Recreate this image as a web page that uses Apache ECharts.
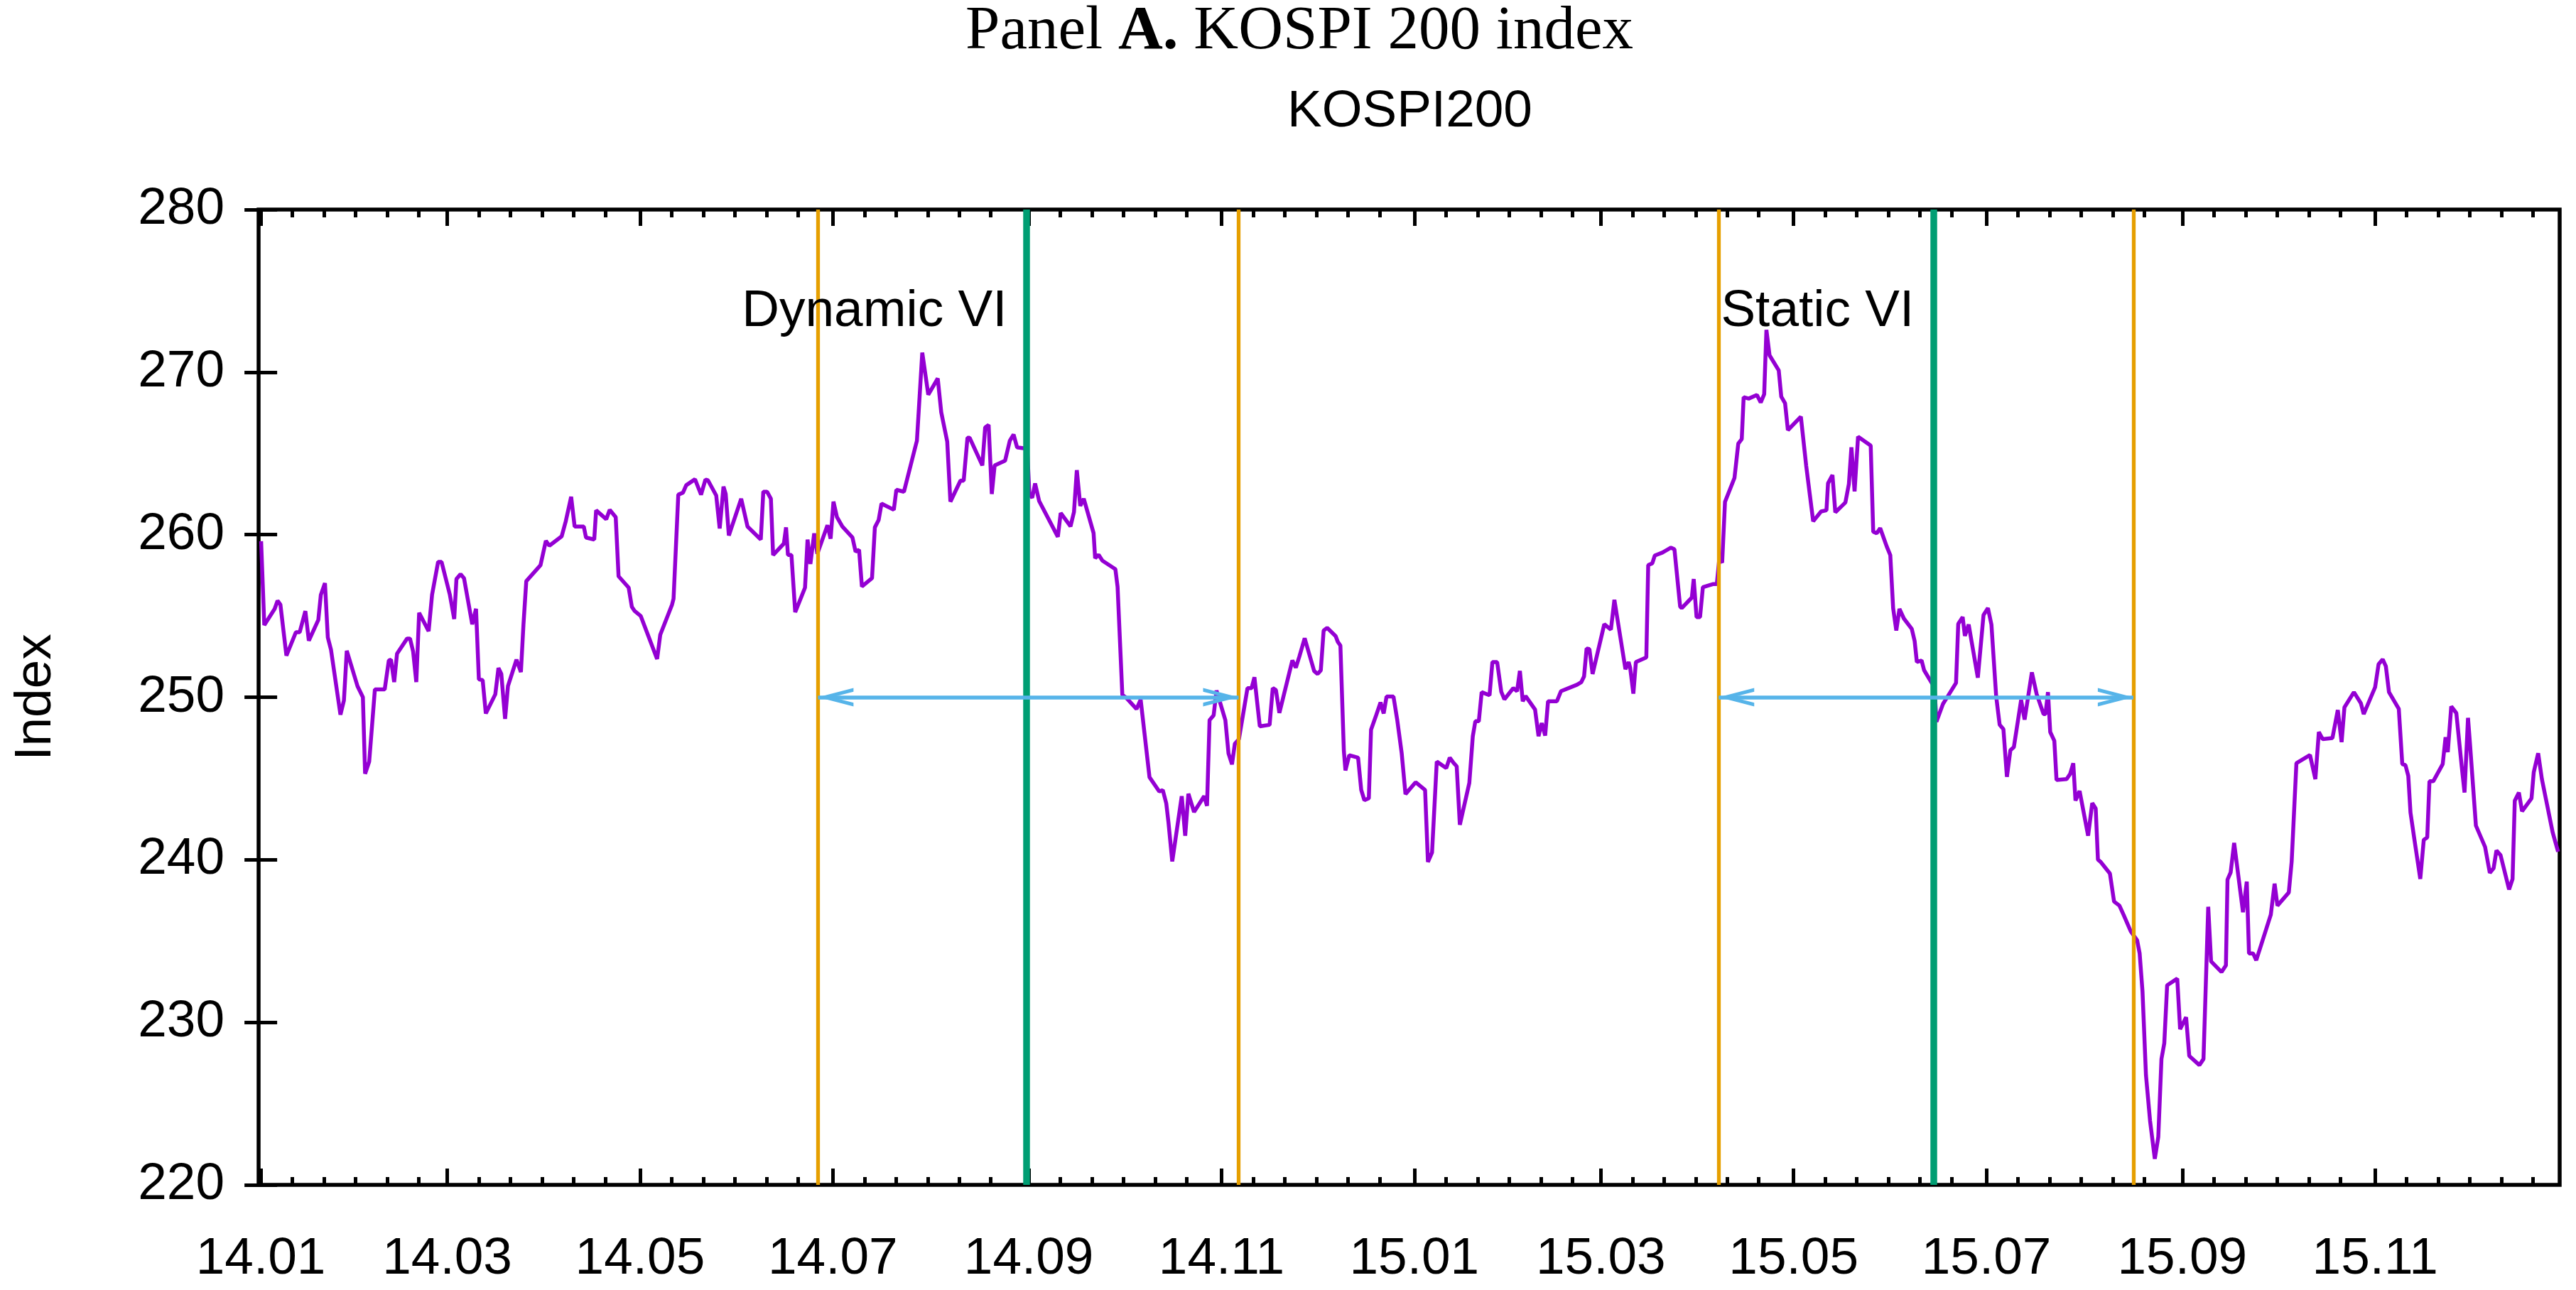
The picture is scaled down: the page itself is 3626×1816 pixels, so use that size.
<!DOCTYPE html>
<html><head><meta charset="utf-8">
<script src="https://cdn.jsdelivr.net/npm/echarts@6/dist/echarts.min.js"></script>
<style>html,body{margin:0;padding:0;background:#fff}#c{width:3626px;height:1816px}</style>
</head><body><div id="c"></div>
<script>
// trading day offset (days since 2014-01-01) and KOSPI200 level
const tradeDay = [0.1,1.1,4.4,5.3,6.2,8.1,11.1,12.3,14.1,15.2,18.2,19.0,20.3,21.2,22.2,25.2,26.3,27.2,30.6,32.3,33.0,34.3,36.1,39.2,40.5,41.2,42.2,43.1,46.3,47.2,48.2,49.2,50.1,53.1,54.2,56.1,57.2,59.8,61.2,61.9,63.2,64.3,66.9,68.1,69.0,70.2,71.2,74.2,75.2,76.1,77.3,78.2,80.9,82.3,83.1,84.0,88.5,90.2,91.3,95.2,96.5,98.2,99.3,102.2,102.9,105.5,106.1,109.3,110.4,112.3,113.2,116.4,117.4,118.3,120.2,125.4,126.4,130.1,130.6,132.1,133.6,134.6,137.4,139.3,140.7,141.5,144.1,145.2,146.4,147.1,148.1,152.0,154.0,158.2,159.0,160.2,161.4,162.1,165.5,166.2,166.8,167.9,169.1,172.2,173.0,173.9,175.1,176.1,179.3,180.3,181.2,182.3,184.0,187.2,188.2,189.3,190.2,193.4,194.3,195.5,196.4,200.3,201.1,203.5,207.1,207.6,209.3,211.2,214.2,215.3,217.2,218.2,221.4,222.4,223.6,224.3,228.3,229.2,230.3,231.3,232.2,235.5,237.0,238.2,239.3,242.5,243.2,244.1,245.0,246.3,252.2,253.1,256.2,257.3,258.2,259.3,260.4,263.5,264.0,265.1,266.3,270.4,271.1,272.6,273.8,277.1,278.4,281.2,284.3,285.4,286.5,287.2,288.4,291.4,292.5,293.5,295.3,298.5,299.4,300.2,301.5,302.4,305.2,306.2,307.3,308.2,309.5,312.2,313.5,314.4,316.1,319.2,320.2,321.2,322.3,326.4,327.5,328.6,330.3,333.3,334.4,335.4,336.3,337.4,340.1,340.8,341.6,342.7,343.2,344.4,347.2,348.2,349.2,350.6,351.3,352.9,354.3,355.3,356.2,358.4,359.6,361.0,362.2,365.4,368.4,369.3,370.6,372.1,375.1,376.2,377.4,378.4,379.4,382.4,383.5,384.3,385.4,386.3,388.8,389.7,391.2,392.5,393.5,396.3,397.5,398.4,399.3,400.2,403.2,404.3,405.3,406.4,407.3,410.1,411.4,416.5,417.8,418.7,419.5,420.4,421.4,425.1,427.2,428.3,431.8,432.8,433.3,434.3,435.1,438.4,439.0,440.3,441.1,443.5,446.2,447.3,449.1,449.6,452.8,453.4,454.3,455.4,456.3,459.6,460.7,461.5,462.4,463.3,466.3,467.5,468.6,469.2,470.8,473.4,474.6,475.7,476.4,477.4,480.3,481.1,482.3,483.2,487.3,489.0,491.2,493.7,495.4,495.9,497.3,498.2,501.4,502.5,503.3,504.3,505.4,509.4,510.2,511.3,512.4,514.5,515.6,516.5,517.5,518.5,519.9,522.4,523.3,524.0,525.5,526.3,528.7,529.6,530.2,532.3,533.8,536.4,537.1,538.5,539.2,540.4,543.3,545.1,546.5,547.6,549.1,550.2,551.4,552.5,553.6,554.7,557.0,558.1,560.4,561.9,564.1,564.7,565.5,566.2,567.5,568.2,571.4,572.5,573.5,574.2,575.5,578.2,579.5,580.6,581.3,582.1,585.1,586.4,588.1,589.4,591.7,593.7,594.5,595.4,596.5,597.8,599.3,600.4,601.4,602.3,603.2,606.4,607.3,609.2,610.2,613.4,614.7,616.2,617.1,620.4,621.8,622.3,623.3,624.4,627.2,628.4,629.1,630.4,631.4,636.0,637.2,638.1,641.7,642.6,644.1,648.4,650.1,651.2,652.4,655.5,657.2,658.4,659.3,662.3,664.5,665.4,669.0,670.1,671.4,672.4,673.4,676.5,677.6,678.6,679.5,680.2,681.4,683.3,684.4,685.5,686.2,687.4,690.4,691.3,692.0,693.1,694.7,696.4,697.3,698.4,699.0,700.9,703.8,705.3,706.5,707.4,708.7,711.4,712.5,713.2,714.5,715.5,718.5,719.2,720.6,721.8,725.2,726.9];
const kospi200 = [259.6,254.44,255.44,255.94,255.7,252.56,254.0,254.0,255.3,253.48,254.76,256.3,257.02,253.68,252.93,248.92,249.8,252.86,250.68,250.0,245.29,246.04,250.48,250.48,252.26,252.31,250.93,252.68,253.61,253.61,252.81,250.93,255.19,254.06,256.32,258.32,258.32,256.32,254.81,257.27,257.57,257.32,254.49,255.44,251.1,251.05,249.0,250.18,251.8,251.43,248.67,250.68,252.31,251.55,254.44,257.14,258.12,259.62,259.32,259.9,260.83,262.33,260.5,260.5,259.82,259.7,261.5,260.95,261.53,261.08,257.44,256.74,255.56,255.3,255.0,252.35,253.85,255.68,256.06,262.46,262.59,263.04,263.41,262.46,263.39,263.34,262.41,260.38,262.96,262.51,259.95,262.21,260.5,259.7,262.64,262.64,262.21,258.75,259.45,260.45,258.75,258.75,255.23,256.74,259.7,258.2,260.08,258.82,260.58,259.75,262.03,261.08,260.5,259.83,258.95,259.07,256.81,257.32,260.45,260.9,261.91,261.53,262.76,262.64,265.4,265.77,271.2,268.61,269.61,267.53,265.72,262.03,263.33,263.32,265.96,265.96,264.26,266.6,266.75,262.5,264.26,264.55,265.78,266.16,265.37,265.28,262.5,262.27,263.15,262.06,259.87,261.33,260.51,261.39,263.97,261.77,262.21,260.1,258.55,258.76,258.4,257.88,256.79,250.15,249.97,249.27,249.85,245.08,244.2,244.29,243.47,242.3,239.9,243.91,241.48,244.06,242.94,243.91,243.32,248.59,248.89,250.41,248.59,246.54,245.87,247.13,247.42,250.56,250.56,251.23,248.21,248.3,250.56,250.44,249.03,252.26,251.82,252.49,253.63,251.61,251.43,251.65,254.1,254.27,253.76,253.4,253.18,246.69,245.5,246.43,246.28,244.29,243.66,243.78,248.0,248.88,249.68,249.0,250.04,250.04,248.59,246.55,244.04,244.77,244.29,239.87,240.45,246.04,245.64,246.28,245.96,245.75,242.15,244.73,247.6,248.52,248.52,250.31,250.12,252.16,252.16,250.34,249.87,250.56,250.37,251.62,249.75,250.07,249.24,247.6,248.41,247.64,249.75,249.75,250.37,250.77,250.92,251.28,252.99,252.96,251.43,254.49,254.16,255.99,251.72,252.16,251.8,250.22,252.16,252.45,258.13,258.24,258.72,258.9,259.2,259.1,255.58,255.48,256.13,257.27,254.93,254.93,256.77,256.96,256.96,258.52,258.28,262.02,263.49,265.6,265.88,268.46,268.37,268.59,268.13,268.64,272.6,271.03,270.11,268.49,268.09,266.43,267.26,264.22,260.82,261.43,261.5,263.16,263.67,261.37,261.98,263.12,265.37,262.66,266.03,265.48,260.18,260.08,260.4,259.26,258.74,255.48,254.1,255.43,254.84,254.2,253.46,252.17,252.26,251.66,250.88,250.61,248.49,249.6,250.06,250.88,254.51,254.93,253.77,254.47,251.2,255.06,255.48,254.47,250.06,248.31,248.03,245.1,246.74,246.93,249.83,248.62,251.53,250.2,248.96,248.96,250.31,247.86,247.32,244.91,244.96,245.28,245.94,243.64,244.23,241.48,243.49,243.15,240.01,239.88,239.15,237.43,237.18,236.62,235.59,235.05,234.24,231.91,226.75,223.93,221.6,222.95,227.74,228.72,232.28,232.69,229.58,230.31,227.93,227.37,227.74,237.11,233.75,233.09,233.5,238.78,239.22,241.04,236.77,238.66,234.24,234.24,233.82,236.62,238.53,237.18,237.99,239.88,245.94,246.44,244.96,247.86,247.42,247.49,249.21,247.24,249.38,250.31,249.63,248.96,250.61,252.03,252.33,251.91,250.31,249.28,245.89,245.82,245.16,242.9,241.3,238.82,241.23,241.37,244.83,244.83,245.89,247.54,246.62,249.43,249.03,245.75,244.14,248.73,247.2,242.1,240.79,239.19,239.48,240.57,240.28,238.17,238.82,243.63,244.14,242.98,243.78,245.38,246.55,244.94,241.67,240.5];

const tickLabels = ['14.01','14.03','14.05','14.07','14.09','14.11','15.01','15.03','15.05','15.07','15.09','15.11'];
const tickMonths = ['2014-01-01','2014-03-01','2014-05-01','2014-07-01','2014-09-01','2014-11-01','2015-01-01','2015-03-01','2015-05-01','2015-07-01','2015-09-01','2015-11-01','2016-01-01'];
const yTicks = [220, 230, 240, 250, 260, 270, 280];

const viNames = ['Dynamic VI', 'Static VI'];
const viStart = [242.3, 529.3];            // introduction dates (green)
const viWindow = [[176.3, 309.4], [461.3, 592.5]]; // window bounds (orange)
const arrowLevel = 250;
const labelLevel = 273.7;

const DAY0 = Date.UTC(2014, 0, 1);
const toDay = s => (Date.parse(s + 'T00:00:00Z') - DAY0) / 86400000;
const majorDays = tickMonths.map(toDay);
const X_MIN = -0.7, X_MAX = 727.4;
const minorDays = [];
majorDays.forEach(d => { for (let k = 1; k <= 5; k++) { const v = d + 10 * k; if (v < X_MAX) minorDays.push(v); } });
const labelDays = majorDays.slice(0, tickLabels.length);

const FONT = 'Liberation Sans';
const tick = (vals, len) => ({show: true, inside: true, length: len, customValues: vals, lineStyle: {color: '#000', width: 5}});
const xBase = {type: 'value', min: X_MIN, max: X_MAX, gridIndex: 0, axisLine: {show: false}, splitLine: {show: false}, axisLabel: {show: false}};

const arrowPath = 'path://M0 0L0.01 0L0 0.01Z M100 0L99.99 0L100 0.01Z M50 50L63 100L57.8 100L50 69.8L42.2 100L37 100Z';

const chart = echarts.init(document.getElementById('c'), null, {renderer: 'canvas'});
chart.setOption({
  animation: false,
  backgroundColor: '#fff',
  title: [
    {text: 'Panel {b|A.} KOSPI 200 index', left: 1359, top: 2, padding: 0,
     textStyle: {fontFamily: 'Liberation Serif', fontSize: 87, fontWeight: 'normal', color: '#000',
       rich: {b: {fontFamily: 'Liberation Serif', fontSize: 87, fontWeight: 'bold', color: '#000'}}}},
    {text: 'KOSPI200', left: 1812, top: 121, padding: 0,
     textStyle: {fontFamily: FONT, fontSize: 73, fontWeight: 'normal', color: '#000'}}
  ],
  grid: {left: 364, right: 23, top: 295, bottom: 148, show: true, borderColor: '#000', borderWidth: 5.5, backgroundColor: 'transparent'},
  xAxis: [
    Object.assign({}, xBase, {position: 'bottom', axisTick: tick(majorDays, 23),
      axisLabel: {show: true, customValues: labelDays, margin: 68, fontSize: 73, fontFamily: FONT, color: '#000',
        formatter: v => { const i = labelDays.findIndex(d => Math.abs(d - v) < 0.01); return i >= 0 ? tickLabels[i] : ''; }}}),
    Object.assign({}, xBase, {position: 'bottom', axisTick: tick(minorDays, 11)}),
    Object.assign({}, xBase, {position: 'top', axisTick: tick(majorDays, 23)}),
    Object.assign({}, xBase, {position: 'top', axisTick: tick(minorDays, 11)})
  ],
  yAxis: [
    {type: 'value', min: 220, max: 280, interval: 10, position: 'left', axisLine: {show: false}, splitLine: {show: false},
     axisTick: {show: true, inside: true, length: 23, lineStyle: {color: '#000', width: 5}},
     axisLabel: {fontSize: 73, fontFamily: FONT, color: '#000', margin: 48, padding: [14, 0, 0, 0],
       formatter: v => String(yTicks.find(t => t === v) ?? v)},
     name: 'Index', nameLocation: 'middle', nameRotate: 90, nameGap: 277,
     nameTextStyle: {fontSize: 73, fontFamily: FONT, color: '#000'}},
    {type: 'value', min: 220, max: 280, interval: 10, position: 'right', axisLine: {show: false}, splitLine: {show: false},
     axisTick: {show: true, inside: true, length: 23, lineStyle: {color: '#000', width: 5}}, axisLabel: {show: false}}
  ],
  series: [
    {type: 'line', name: 'KOSPI200', xAxisIndex: 0, yAxisIndex: 0, showSymbol: false, symbol: 'none', z: 2,
     lineStyle: {color: '#9400D3', width: 5.5}, data: tradeDay.map((d, i) => [d, kospi200[i]])},
    {type: 'line', xAxisIndex: 0, yAxisIndex: 0, data: [], z: 3,
     markLine: {silent: true, symbol: 'none', animation: false, label: {show: false},
       data: [].concat(
         viWindow.flat().map(d => ({xAxis: d, lineStyle: {color: '#E69F00', width: 5.3, type: 'solid'}})),
         viStart.map(d => ({xAxis: d, lineStyle: {color: '#009E73', width: 9.5, type: 'solid'}})))},
     markPoint: {silent: true, symbol: 'circle', symbolSize: 1, itemStyle: {color: 'rgba(0,0,0,0)'},
       label: {show: true, position: 'left', distance: 27, formatter: p => p.name, fontSize: 73, fontFamily: FONT, color: '#000'},
       data: viNames.map((n, i) => ({name: n, coord: [viStart[i], labelLevel]}))}},
    {type: 'line', xAxisIndex: 0, yAxisIndex: 0, data: [], z: 4,
     markLine: {silent: true, symbol: [arrowPath, arrowPath], symbolSize: 100, animation: false, label: {show: false},
       lineStyle: {color: '#56B4E9', width: 5.5, type: 'solid'},
       data: viWindow.map(w => [{coord: [w[0], arrowLevel]}, {coord: [w[1], arrowLevel]}])}}
  ]
});
</script></body></html>
